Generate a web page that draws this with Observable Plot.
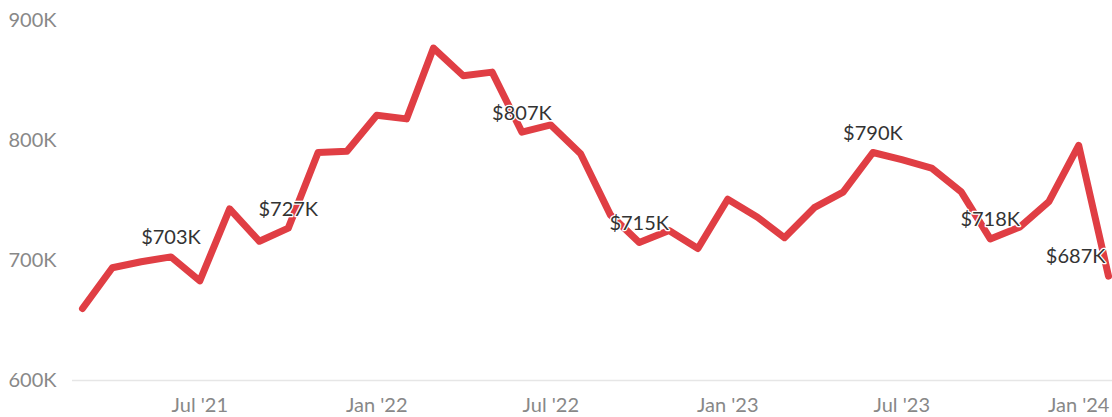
<!DOCTYPE html>
<html>
<head>
<meta charset="utf-8">
<script src="https://cdn.jsdelivr.net/npm/d3@7"></script>
<script src="https://cdn.jsdelivr.net/npm/@observablehq/plot@0.6"></script>
<style>
  html, body { margin: 0; padding: 0; background: #fff; }
  #chart svg { display: block; }
</style>
</head>
<body>
<div id="chart"></div>
<script>
const months = [
  "2021-03","2021-04","2021-05","2021-06","2021-07","2021-08","2021-09","2021-10","2021-11","2021-12",
  "2022-01","2022-02","2022-03","2022-04","2022-05","2022-06","2022-07","2022-08","2022-09","2022-10","2022-11","2022-12",
  "2023-01","2023-02","2023-03","2023-04","2023-05","2023-06","2023-07","2023-08","2023-09","2023-10","2023-11","2023-12",
  "2024-01","2024-02"
];
const prices = [
  660, 694, 699, 703, 683, 743, 716, 727, 790, 791,
  821, 818, 877, 854, 857, 807, 813, 789, 738, 715, 725, 710,
  751, 736, 719, 744, 757, 790, 784, 777, 757, 718, 728, 749,
  796, 687
];
const labeledMonths = ["2021-06","2021-10","2022-06","2022-10","2023-06","2023-10","2024-02"];
const yTicks = [600000, 700000, 800000, 900000];
const xTicks = ["2021-07","2022-01","2022-07","2023-01","2023-07","2024-01"];

const parse = d3.utcParse("%Y-%m");
const data = months.map((m, i) => ({date: parse(m), value: prices[i] * 1000, month: m}));
const labels = data.filter(d => labeledMonths.includes(d.month));
const lastMonth = months[months.length - 1];

const chart = Plot.plot({
  width: 1112,
  height: 417,
  marginLeft: 82,
  marginRight: 4,
  marginTop: 20,
  marginBottom: 37,
  style: {fontFamily: "Lato, 'Open Sans', sans-serif", fontSize: "20px", background: "#fff"},
  x: {type: "utc", domain: [data[0].date, data[data.length - 1].date]},
  y: {domain: [600000, 900000]},
  marks: [
    Plot.ruleY([600000], {stroke: "#e6e6e6", strokeWidth: 1.5, insetLeft: -10, insetRight: -4}),
    Plot.axisY({
      ticks: yTicks,
      tickSize: 0,
      tickPadding: 0,
      dx: -26,
      tickFormat: d => d / 1000 + "K",
      fill: "#888",
      fontSize: 20,
      label: null
    }),
    Plot.axisX({
      ticks: xTicks.map(parse),
      tickSize: 0,
      tickPadding: 17,
      tickFormat: d3.utcFormat("%b '%y"),
      fill: "#888",
      fontSize: 20,
      label: null
    }),
    Plot.line(data, {
      x: "date", y: "value",
      stroke: "#e03e44", strokeWidth: 7,
      strokeLinejoin: "round", strokeLinecap: "round"
    }),
    Plot.text(labels.filter(d => d.month !== lastMonth), {
      x: "date", y: "value",
      text: d => "$" + Math.round(d.value / 1000) + "K",
      dy: -19,
      fill: "#333",
      fontSize: 20,
      stroke: "white",
      strokeWidth: 2.5
    }),
    Plot.text(labels.filter(d => d.month === lastMonth), {
      x: "date", y: "value",
      text: d => "$" + Math.round(d.value / 1000) + "K",
      dy: -20,
      dx: -3,
      textAnchor: "end",
      fill: "#333",
      fontSize: 20,
      stroke: "white",
      strokeWidth: 2.5
    })
  ]
});
document.getElementById("chart").appendChild(chart);
</script>
</body>
</html>
